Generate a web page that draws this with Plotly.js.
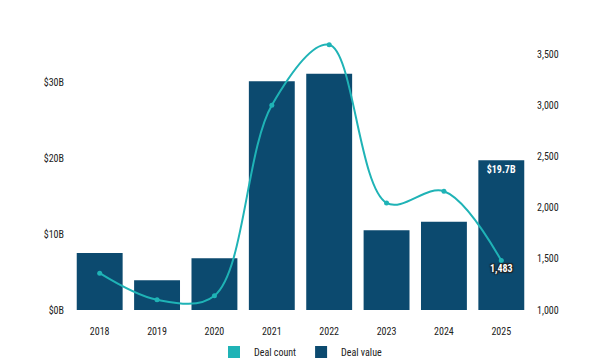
<!DOCTYPE html>
<html>
<head>
<meta charset="utf-8">
<script src="https://cdn.plot.ly/plotly-3.0.1.min.js"></script>
<style>html,body{margin:0;padding:0;background:#fff;}#chart{width:600px;height:363px;}</style>
</head>
<body>
<div id="chart"></div>
<script>
const years = ['2018','2019','2020','2021','2022','2023','2024','2025'];
const dealValue = [7.5, 3.9, 6.8, 30.1, 31.1, 10.5, 11.6, 19.7];
const dealCount = [1360, 1100, 1140, 3000, 3590, 2045, 2160, 1483];
const leftTicks = [0, 10, 20, 30];
const rightTicks = [1000, 1500, 2000, 2500, 3000, 3500];

const navy = '#0c4a6f';
const teal = '#1fb3b6';
const FONT = '"Roboto Condensed", "Liberation Sans Narrow", "DejaVu Sans Condensed", Roboto, sans-serif';
const last = years.length - 1;

const traces = [
  {
    type: 'bar', x: years, y: dealValue, name: 'Deal value',
    marker: {color: navy}, legendrank: 2,
    text: dealValue.map((v, i) => i === last ? '$' + v.toFixed(1) + 'B' : ''),
    textposition: 'inside', insidetextanchor: 'end',
    textfont: {color: '#ffffff', size: 10, family: FONT, weight: 'bold'},
    hoverinfo: 'none'
  },
  {
    type: 'bar', x: [years[0]], y: [null], name: 'Deal count',
    marker: {color: teal}, legendrank: 1, hoverinfo: 'none'
  },
  {
    type: 'scatter', mode: 'lines+markers+text', x: years, y: dealCount, yaxis: 'y2',
    name: 'Deal count', showlegend: false,
    line: {color: teal, width: 2, shape: 'spline', smoothing: 1.0},
    marker: {color: teal, size: 5},
    text: dealCount.map((v, i) => i === last ? v.toLocaleString('en-US') : ''),
    textposition: 'bottom center',
    textfont: {color: '#ffffff', size: 10, family: FONT, weight: 'bold',
      shadow: '1px 1px 1px #222, -1px -1px 1px #222, 1px -1px 1px #222, -1px 1px 1px #222'},
    hoverinfo: 'none'
  }
];

const layout = {
  width: 600, height: 363,
  margin: {l: 71, r: 70, t: 20, b: 53},
  paper_bgcolor: '#ffffff', plot_bgcolor: '#ffffff',
  font: {family: FONT, size: 10, color: '#222222'},
  barmode: 'overlay', bargap: 0.2,
  showlegend: true,
  legend: {orientation: 'h', x: 0.5, xanchor: 'center', yref: 'container', y: 0.03, yanchor: 'middle',
    font: {size: 10, color: '#222222'}, traceorder: 'normal', itemwidth: 30, tracegroupgap: 0},
  xaxis: {type: 'category', showgrid: false, showline: false, zeroline: false, automargin: false,
    ticks: '', ticklabelstandoff: 14, fixedrange: true},
  yaxis: {range: [0, 38.16], tickvals: leftTicks, automargin: false,
    ticktext: leftTicks.map(v => '$' + v + 'B'),
    showgrid: false, zeroline: false, showline: false, ticks: '', ticklabelstandoff: 6},
  yaxis2: {range: [1000, 3832], tickvals: rightTicks, automargin: false,
    ticktext: rightTicks.map(v => v.toLocaleString('en-US')),
    overlaying: 'y', side: 'right', showgrid: false, zeroline: false, showline: false,
    ticks: '', ticklabelstandoff: 6}
};

Plotly.newPlot('chart', traces, layout, {displayModeBar: false, staticPlot: true});
</script>
</body>
</html>
